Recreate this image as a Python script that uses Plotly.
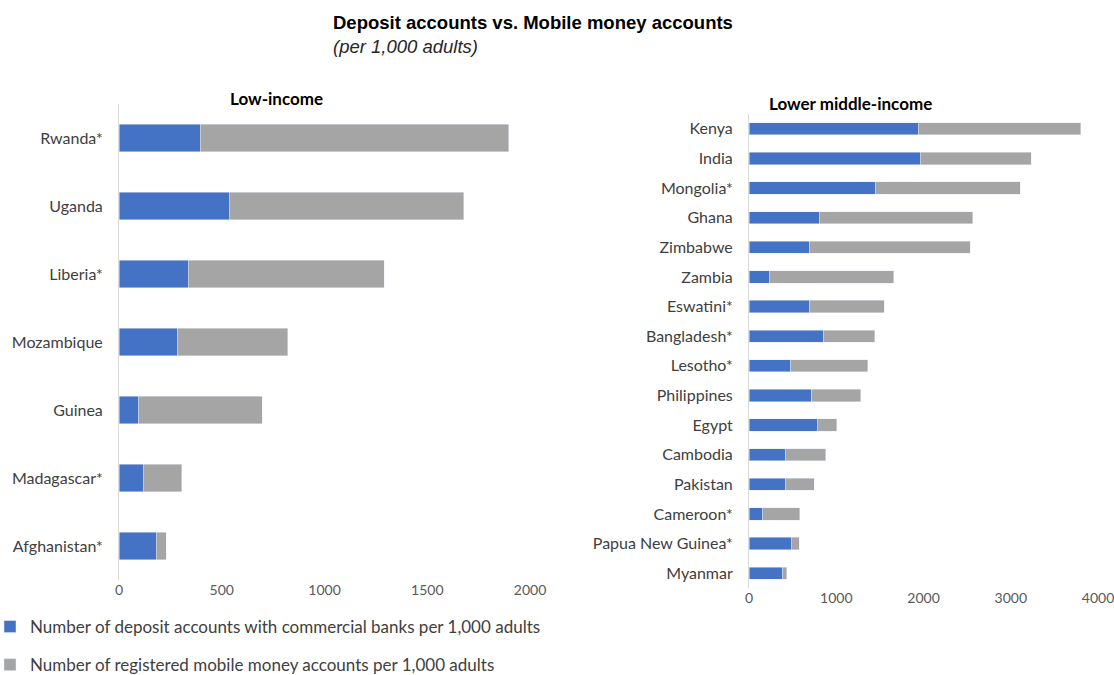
import plotly.graph_objects as go

low_countries = ["Rwanda*", "Uganda", "Liberia*", "Mozambique", "Guinea", "Madagascar*", "Afghanistan*"]
low_deposit = [396, 536, 337, 287, 96, 117, 181]
low_mobile = [1500, 1142, 953, 534, 600, 189, 49]

lmi_countries = ["Kenya", "India", "Mongolia*", "Ghana", "Zimbabwe", "Zambia", "Eswatini*", "Bangladesh*",
                 "Lesotho*", "Philippines", "Egypt", "Cambodia", "Pakistan", "Cameroon*", "Papua New Guinea*", "Myanmar"]
lmi_deposit = [1941, 1965, 1455, 808, 694, 235, 694, 855, 478, 722, 784, 424, 424, 157, 486, 384]
lmi_mobile = [1859, 1270, 1655, 1757, 1843, 1424, 855, 584, 883, 560, 220, 458, 321, 427, 90, 47]

series_names = ["Number of deposit accounts with commercial banks per 1,000 adults",
                "Number of registered mobile money accounts per 1,000 adults"]
BLUE = "#4472C4"
GRAY = "#A5A5A5"
FONT = "Lato, Liberation Sans, sans-serif"
W, H = 1114, 675

fig = go.Figure()
fig.add_trace(go.Bar(y=low_countries, x=low_deposit, orientation="h", marker_color=BLUE,
                     name=series_names[0], legendgroup="a", xaxis="x", yaxis="y"))
fig.add_trace(go.Bar(y=low_countries, x=low_mobile, orientation="h", marker_color=GRAY,
                     name=series_names[1], legendgroup="b", xaxis="x", yaxis="y"))
fig.add_trace(go.Bar(y=lmi_countries, x=lmi_deposit, orientation="h", marker_color=BLUE,
                     name=series_names[0], legendgroup="a", showlegend=False, xaxis="x2", yaxis="y2"))
fig.add_trace(go.Bar(y=lmi_countries, x=lmi_mobile, orientation="h", marker_color=GRAY,
                     name=series_names[1], legendgroup="b", showlegend=False, xaxis="x2", yaxis="y2"))

axis_font = dict(family=FONT, size=16, color="#404040")
tick_font = dict(family=FONT, size=14, color="#595959")


def px(x):
    return x / W


def py(y):
    return 1 - y / H


def ann(text, x, y, size, family=FONT, color="black"):
    return dict(text=text, x=px(x), y=py(y), xref="paper", yref="paper", xanchor="center",
                yanchor="middle", showarrow=False, font=dict(family=family, size=size, color=color))


fig.update_layout(
    width=W, height=H,
    barmode="stack", bargap=0.59,
    plot_bgcolor="white", paper_bgcolor="white",
    margin=dict(l=0, r=0, t=0, b=0, autoexpand=False),
    xaxis=dict(domain=[px(119), px(530)], range=[0, 2000], tickvals=[0, 500, 1000, 1500, 2000],
               showgrid=False, zeroline=False, showline=False, anchor="y", automargin=False,
               ticklabeloverflow="allow", tickfont=tick_font),
    yaxis=dict(domain=[py(580), py(104)], autorange="reversed", showgrid=False, showline=True,
               linecolor="#D9D9D9", linewidth=1, ticks="", ticklabelstandoff=12, automargin=False,
               tickfont=axis_font, anchor="x"),
    xaxis2=dict(domain=[px(749), px(1098)], range=[0, 4000], tickvals=[0, 1000, 2000, 3000, 4000],
                showgrid=False, zeroline=False, showline=False, anchor="y2", automargin=False,
                ticklabeloverflow="allow", tickfont=tick_font),
    yaxis2=dict(domain=[py(588), py(114)], autorange="reversed", showgrid=False, showline=True,
                linecolor="#D9D9D9", linewidth=1, ticks="", ticklabelstandoff=12, automargin=False,
                tickfont=axis_font, anchor="x2"),
    legend=dict(x=-10 / W, y=py(609), xanchor="left", yanchor="top", orientation="v",
                font=dict(family=FONT, size=17, color="#404040"), tracegroupgap=13,
                bgcolor="rgba(0,0,0,0)"),
    showlegend=True,
    annotations=[
        ann("<b>Deposit accounts vs. Mobile money accounts</b>", 533, 22, 18.5, "Liberation Sans, Arial"),
        ann("<i>(per 1,000 adults)</i>", 405, 46, 18.5, "Liberation Sans, Arial", "#262626"),
        ann("<b>Low-income</b>", 276, 98, 17),
        ann("<b>Lower middle-income</b>", 850, 103, 17),
    ],
)

fig.write_html("out.html", config={"displayModeBar": False},
               post_script="document.body.style.margin='0';document.body.style.overflow='hidden';")
